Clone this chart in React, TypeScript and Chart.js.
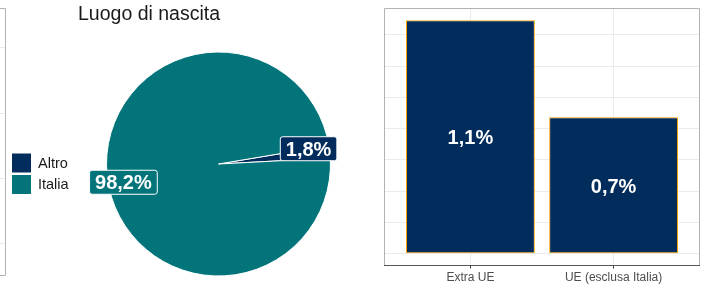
import React, { useEffect, useRef } from "react";
import { Chart, registerables } from "chart.js";

Chart.register(...registerables);

// ---- data ----
const pieTitle = "Luogo di nascita";
const pieLabels = ["Altro", "Italia"];
const pieValues = [1.8, 98.2];
const pieColors = ["#022c5b", "#03747a"];

const barCategories = ["Extra UE", "UE (esclusa Italia)"];
const barValues = [1.12, 0.655];
const barGridStep = 0.15;

const FONT = '"Liberation Sans", Arial, Helvetica, sans-serif';
const fmt = (v: number) => (Math.round(v * 10) / 10).toFixed(1).replace(".", ",") + "%";

const piePlugin = {
  id: "pieDecor",
  beforeDraw(chart: any) {
    const ctx = chart.ctx;
    ctx.save();
    // edge of neighbouring panel on the far left
    ctx.lineWidth = 1;
    ctx.strokeStyle = "#ebebeb";
    [47, 113, 178, 243].forEach((y) => {
      ctx.beginPath();
      ctx.moveTo(0, y + 0.5);
      ctx.lineTo(5, y + 0.5);
      ctx.stroke();
    });
    ctx.strokeStyle = "#b3b3b3";
    ctx.beginPath();
    ctx.moveTo(0, 8.5);
    ctx.lineTo(5.5, 8.5);
    ctx.lineTo(5.5, 275.5);
    ctx.lineTo(0, 275.5);
    ctx.stroke();
    ctx.restore();
  },
  afterDraw(chart: any) {
    const ctx = chart.ctx;
    ctx.save();
    // title
    ctx.font = `19.5px ${FONT}`;
    ctx.fillStyle = "#1a1a1a";
    ctx.textAlign = "left";
    ctx.textBaseline = "alphabetic";
    ctx.fillText(pieTitle, 78, 20);

    // legend
    const ds = chart.data.datasets[0];
    chart.data.labels.forEach((lab: string, i: number) => {
      const y = 153.5 + i * 21.5;
      ctx.fillStyle = ds.backgroundColor[i];
      ctx.fillRect(12, y, 19, 19);
      ctx.fillStyle = "#1a1a1a";
      ctx.font = `14.5px ${FONT}`;
      ctx.textBaseline = "middle";
      ctx.textAlign = "left";
      ctx.fillText(lab, 38, y + 10);
    });

    // slice labels
    const meta = chart.getDatasetMeta(0);
    meta.data.forEach((arc: any, i: number) => {
      const p = arc.getProps(["x", "y", "startAngle", "endAngle", "outerRadius"], true);
      const a = (p.startAngle + p.endAngle) / 2 - (4 * Math.PI) / 180;
      const r = p.outerRadius * 0.84;
      const cx = p.x + r * Math.cos(a) - 2.5;
      const cy = p.y + r * Math.sin(a) + 1.5;
      const text = fmt(ds.data[i]);
      ctx.font = `bold 20px ${FONT}`;
      const w = ctx.measureText(text).width + 11;
      const h = 24;
      ctx.beginPath();
      (ctx as any).roundRect(cx - w / 2, cy - h / 2, w, h, 2.5);
      ctx.fillStyle = ds.backgroundColor[i];
      ctx.fill();
      ctx.strokeStyle = "#ffffff";
      ctx.lineWidth = 1;
      ctx.stroke();
      ctx.fillStyle = "#ffffff";
      ctx.textAlign = "center";
      ctx.textBaseline = "middle";
      ctx.fillText(text, cx, cy + 1.4);
    });
    ctx.restore();
  },
};

const barPlugin = {
  id: "barDecor",
  afterDraw(chart: any) {
    const ctx = chart.ctx;
    const { left, right, top, bottom } = chart.chartArea;
    ctx.save();
    ctx.lineWidth = 1;
    ctx.strokeStyle = "#b3b3b3";
    ctx.beginPath();
    ctx.moveTo(left, bottom);
    ctx.lineTo(left, top);
    ctx.lineTo(right, top);
    ctx.lineTo(right, bottom);
    ctx.stroke();
    ctx.strokeStyle = "#555555";
    ctx.beginPath();
    ctx.moveTo(left - 0.5, bottom);
    ctx.lineTo(right + 0.5, bottom);
    ctx.stroke();

    const meta = chart.getDatasetMeta(0);
    ctx.font = `bold 20px ${FONT}`;
    ctx.fillStyle = "#ffffff";
    ctx.textAlign = "center";
    ctx.textBaseline = "middle";
    meta.data.forEach((el: any, i: number) => {
      const p = el.getProps(["x", "y", "base"], true);
      ctx.fillText(fmt(barValues[i]), p.x, (p.y + p.base) / 2 + 2.2);
    });
    ctx.restore();
  },
};

export default function App() {
  const pieRef = useRef<HTMLCanvasElement>(null);
  const barRef = useRef<HTMLCanvasElement>(null);

  useEffect(() => {
    const pie = new Chart(pieRef.current as HTMLCanvasElement, {
      type: "pie",
      data: {
        labels: pieLabels,
        datasets: [
          {
            data: pieValues,
            backgroundColor: pieColors,
            borderColor: "#ffffff",
            borderWidth: 1,
          },
        ],
      },
      options: {
        animation: false,
        responsive: false,
        maintainAspectRatio: false,
        rotation: 80.5,
        radius: 112,
        layout: { padding: { left: 100, right: 23, top: 45, bottom: 6 } },
        plugins: { legend: { display: false }, tooltip: { enabled: false }, title: { display: false } },
      } as any,
      plugins: [piePlugin],
    });

    const maxV = Math.max(...barValues);
    const bar = new Chart(barRef.current as HTMLCanvasElement, {
      type: "bar",
      data: {
        datasets: [
          {
            data: barCategories.map((c, i) => ({ x: i + 1, y: barValues[i] })),
            backgroundColor: "#022c5b",
            borderColor: "#ffa500",
            borderWidth: 1,
            borderSkipped: false,
            barPercentage: 0.9,
            categoryPercentage: 1,
          },
        ],
      },
      options: {
        animation: false,
        responsive: false,
        maintainAspectRatio: false,
        layout: { padding: { left: 24.5, right: 7.5, top: 8.5, bottom: 2.1 } },
        plugins: { legend: { display: false }, tooltip: { enabled: false } },
        scales: {
          x: {
            type: "linear",
            min: 0.4,
            max: barCategories.length + 0.6,
            offset: false,
            afterBuildTicks: (s: any) => {
              s.ticks = barCategories.map((_, i) => ({ value: i + 1 }));
            },
            ticks: {
              callback: (v: any) => barCategories[Math.round(v) - 1] ?? "",
              color: "#4d4d4d",
              font: { family: FONT, size: 12 },
              padding: 2,
              maxRotation: 0,
              autoSkip: false,
            },
            grid: { color: "#ebebeb", tickColor: "#333333", tickLength: 3, drawTicks: true, offset: false },
            border: { display: false },
          },
          y: {
            type: "linear",
            min: -0.05 * maxV,
            max: 1.05 * maxV,
            afterBuildTicks: (s: any) => {
              const t: any[] = [];
              for (let v = 0; v <= s.max + 1e-9; v += barGridStep) t.push({ value: v });
              s.ticks = t;
            },
            ticks: { display: false },
            grid: { color: "#ebebeb", drawTicks: false },
            border: { display: false },
          },
        },
      } as any,
      plugins: [barPlugin],
    });

    return () => {
      pie.destroy();
      bar.destroy();
    };
  }, []);

  return (
    <div style={{ position: "fixed", left: 0, top: 0, width: 707, height: 289, background: "#ffffff" }}>
      <canvas
        ref={pieRef}
        width={360}
        height={289}
        style={{ position: "absolute", left: 0, top: 0, width: 360, height: 289 }}
      />
      <canvas
        ref={barRef}
        width={347}
        height={289}
        style={{ position: "absolute", left: 360, top: 0, width: 347, height: 289 }}
      />
    </div>
  );
}
